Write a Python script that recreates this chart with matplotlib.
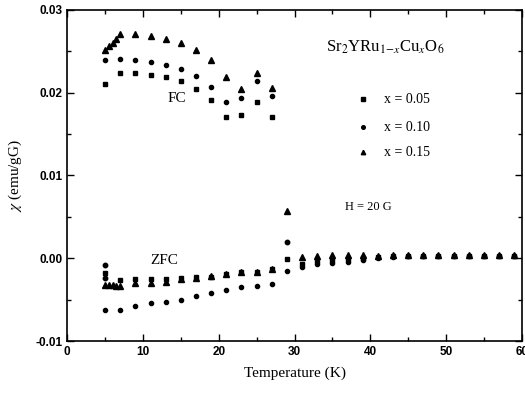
import numpy as np
import matplotlib
matplotlib.use('Agg')
import matplotlib.pyplot as plt
from matplotlib.ticker import MultipleLocator

plt.rcParams['mathtext.fontset'] = 'stix'

# FC branch
T_fc = [5, 7, 9, 11, 13, 15, 17, 19, 21, 23, 25, 27]
fc_005 = [0.0211, 0.0224, 0.0224, 0.0221, 0.0219, 0.0214, 0.0205, 0.0191, 0.0171, 0.0173, 0.0189, 0.0171]
fc_010 = [0.0239, 0.0241, 0.0240, 0.0237, 0.0233, 0.0228, 0.0220, 0.0207, 0.0189, 0.0193, 0.0214, 0.0196]
T_fc_015 = [5, 5.5, 6, 6.5, 7, 9, 11, 13, 15, 17, 19, 21, 23, 25, 27]
fc_015 = [0.0252, 0.0256, 0.0260, 0.0265, 0.0271, 0.0271, 0.0269, 0.0265, 0.0260, 0.0252,
          0.0239, 0.0219, 0.0204, 0.0224, 0.0206]

# ZFC branch
T_zfc = [5, 7, 9, 11, 13, 15, 17, 19, 21, 23, 25, 27, 29, 31, 33, 35, 37, 39,
         41, 43, 45, 47, 49, 51, 53, 55, 57, 59]
zfc_005 = [-0.0018, -0.0026, -0.0025, -0.0025, -0.0025, -0.0024, -0.0023, -0.0022, -0.0019,
           -0.0017, -0.0016, -0.0013, -0.0001, -0.0007, -0.0003, -0.0002, -0.0001, 0.0000,
           0.0001, 0.0003, 0.0003, 0.0003, 0.0003, 0.0003, 0.0003, 0.0003, 0.0003, 0.0003]
zfc_010 = [-0.0062, -0.0062, -0.0057, -0.0054, -0.0053, -0.0050, -0.0046, -0.0042, -0.0038,
           -0.0035, -0.0034, -0.0031, -0.0015, -0.0010, -0.0007, -0.0006, -0.0004, -0.0002,
           0.0000, 0.0002, 0.0003, 0.0003, 0.0003, 0.0003, 0.0003, 0.0003, 0.0003, 0.0003]
# extra readings seen at 5 K and 29 K
T_extra = [5, 5, 29]
zfc_extra = [-0.0008, -0.0024, 0.0020]
T_zfc_015 = [5, 5.5, 6, 6.5, 7, 9, 11, 13, 15, 17, 19, 21, 23, 25, 27, 29, 31, 33, 35,
             37, 39, 41, 43, 45, 47, 49, 51, 53, 55, 57, 59]
zfc_015 = [-0.0032, -0.0032, -0.0032, -0.0033, -0.0033, -0.0030, -0.0030, -0.0029, -0.0025,
           -0.0024, -0.0021, -0.0019, -0.0017, -0.0017, -0.0013, 0.0057, 0.0001, 0.0003,
           0.0004, 0.0004, 0.0004, 0.0003, 0.0004, 0.0004, 0.0004, 0.0004, 0.0004, 0.0004,
           0.0004, 0.0004, 0.0004]

leg_labels = ['x = 0.05', 'x = 0.10', 'x = 0.15']

serif = 'Liberation Serif'
sans = 'Liberation Sans'

fig = plt.figure(figsize=(5.25, 3.93), dpi=100)
ax = fig.add_axes([0.128, 0.132, 0.866, 0.843])

ax.plot(T_fc, fc_005, 's', color='black', ms=2.6)
ax.plot(T_zfc, zfc_005, 's', color='black', ms=2.6)
ax.plot(T_fc, fc_010, 'o', color='black', ms=3.0)
ax.plot(T_zfc, zfc_010, 'o', color='black', ms=3.0)
ax.plot(T_extra, zfc_extra, 'o', color='black', ms=3.2)
ax.plot(T_fc_015, fc_015, '^', color='black', ms=4.2)
ax.plot(T_zfc_015, zfc_015, '^', color='black', ms=4.2)

ax.set_xlim(0, 60)
ax.set_ylim(-0.01, 0.03)
ax.xaxis.set_major_locator(MultipleLocator(10))
ax.xaxis.set_minor_locator(MultipleLocator(5))
ax.yaxis.set_major_locator(MultipleLocator(0.01))
ax.yaxis.set_minor_locator(MultipleLocator(0.005))
ax.yaxis.set_major_formatter(matplotlib.ticker.FormatStrFormatter('%.2f'))
ax.tick_params(which='both', direction='in', top=True, right=True, labelsize=8.5)
ax.tick_params(which='major', length=5, width=1)
ax.tick_params(which='minor', length=3, width=1)
for lbl in ax.get_xticklabels() + ax.get_yticklabels():
    lbl.set_family(sans)
    lbl.set_weight('bold')
for s in ax.spines.values():
    s.set_linewidth(1.2)

ax.set_xlabel('Temperature (K)', fontsize=11, family=serif, labelpad=6)
ax.set_ylabel(r'$\chi$ (emu/gG)', fontsize=11, family=serif, labelpad=8)

ax.text(14.5, 0.0193, 'FC', fontsize=11, family=serif, ha='center', va='center')
ax.text(12.8, -0.0003, 'ZFC', fontsize=11, family=serif, ha='center', va='center')
ax.text(42.0, 0.0255, r'Sr$_2$YRu$_{1\mathrm{-}x}$Cu$_x$O$_6$', fontsize=12, family=serif,
        ha='center', va='center')

leg_markers = ['s', 'o', '^']
leg_y = [0.0192, 0.0158, 0.0128]
for lab, mk, yy in zip(leg_labels, leg_markers, leg_y):
    ax.plot([39.0], [yy], mk, color='black', ms=2.6 if mk != '^' else 3.2)
    ax.text(41.8, yy, lab, fontsize=10, family=serif, va='center', ha='left')

ax.text(39.8, 0.0062, 'H = 20 G', fontsize=9, family=serif, ha='center', va='center')

fig.savefig('out.png', dpi=100)
